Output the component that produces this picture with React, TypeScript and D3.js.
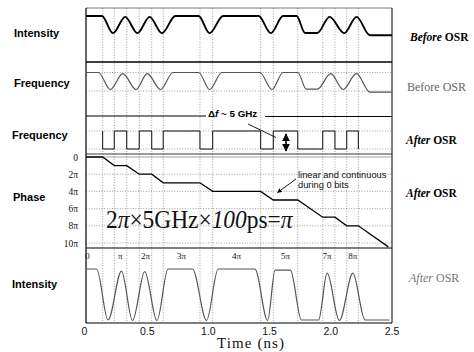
import React from "react";
import * as d3 from "d3";

// ---------- data ----------
const timeTicks = [0, 0.5, 1.0, 1.5, 2.0, 2.5];
const timeTickLabels = ["0", "0.5", "1.0", "1.5", "2.0", "2.5"];

// edges of the 0-bit windows (dotted vertical guides)
const edgeTimes = [0.136, 0.231, 0.333, 0.435, 0.537, 0.631, 0.931, 1.035, 1.427, 1.53, 1.73, 1.934, 2.034, 2.13, 2.225];

// Intensity before OSR (normalised)
const intBeforeT = [0, 0.13, 0.22, 0.32, 0.42, 0.52, 0.62, 0.73, 0.92, 1.01, 1.12, 1.41, 1.51, 1.61, 1.72, 1.79, 1.89, 1.99, 2.11, 2.21, 2.32, 2.5];
const intBeforeV = [1, 1, 0.02, 0.95, 0.02, 0.95, 0.02, 1, 1, 0.02, 1, 1, 0.02, 1, 1, 0.03, 0.03, 0.95, 0.02, 0.95, -0.1, -0.1];

// Frequency before OSR (normalised)
const freqBeforeT = [0, 0.1, 0.2, 0.3, 0.41, 0.5, 0.61, 0.71, 0.92, 1.01, 1.11, 1.42, 1.52, 1.61, 1.73, 1.8, 1.89, 2.0, 2.1, 2.21, 2.32, 2.5];
const freqBeforeV = [1, 1, 0, 0.93, 0, 0.93, 0, 1, 1, 0, 1, 1, 0, 1, 1, 0.02, 0.02, 0.93, 0, 0.93, -0.16, -0.16];

// Frequency after OSR: level right after each edge (1 = high, 0 = low)
const freqAfterLevels = [0, 1, 0, 1, 0, 1, 0, 1, 0, 1, 0, 1, 0, 1, 0];

// Phase after OSR (units of pi, negative = downward)
const phaseT = [0, 0.136, 0.231, 0.333, 0.435, 0.537, 0.631, 0.931, 1.035, 1.427, 1.53, 1.73, 1.934, 2.034, 2.13, 2.225, 2.47];
const phaseV = [0, 0, -1, -1, -2, -2, -3, -3, -4, -4, -5, -5, -7, -7, -8, -8, -10.45];
const phaseTicks = [0, 2, 4, 6, 8, 10];
const phaseTickLabels = ["0", "2π", "4π", "6π", "8π", "10π"];

// Intensity after OSR (normalised)
const intAfterT = [0, 0.087, 0.18, 0.29, 0.38, 0.48, 0.58, 0.67, 0.87, 0.985, 1.08, 1.38, 1.484, 1.545, 1.67, 1.76, 1.9, 1.97, 2.07, 2.18, 2.28, 2.48];
const intAfterV = [1, 1, 0.01, 0.96, 0, 0.95, 0, 1, 1, 0, 1, 1, 0, 0.98, 0.98, 0.01, 0.01, 0.92, 0, 0.92, 0.01, 0.01];

// phase labels placed over the 1-bit windows
const bitPhaseLabels = ["0", "π", "2π", "3π", "4π", "5π", "7π", "8π"];
const bitPhaseT = [0.012, 0.28, 0.486, 0.78, 1.23, 1.63, 1.97, 2.18];

// ---------- layout ----------
const W = 474, H = 352;
const X0 = 86, X1 = 392;
const sans = "'Liberation Sans', Arial, sans-serif";
const serif = "'Liberation Serif', 'Times New Roman', serif";

export default function App() {
  const x = d3.scaleLinear().domain([0, 2.5]).range([X0, X1]);
  const yI1 = d3.scaleLinear().domain([0, 1]).range([33.5, 16]);
  const yF1 = d3.scaleLinear().domain([0, 1]).range([89.5, 72.5]);
  const yF2 = d3.scaleLinear().domain([0, 1]).range([149, 131]);
  const yP = d3.scaleLinear().domain([0, -10]).range([157, 243]);
  const yI2 = d3.scaleLinear().domain([0, 1]).range([320.5, 269]);

  const mk = (T: number[], V: number[], ys: any, curve: any) =>
    d3.line<number>().x((_, i) => x(T[i])).y((v) => ys(v)).curve(curve)(V) || "";

  const pIntBefore = mk(intBeforeT, intBeforeV, yI1, d3.curveMonotoneX);
  const pFreqBefore = mk(freqBeforeT, freqBeforeV, yF1, d3.curveMonotoneX);
  const sqT = [edgeTimes[0], ...edgeTimes];
  const sqV = [1, ...freqAfterLevels];
  const pFreqAfter = mk(sqT, sqV, yF2, d3.curveStepAfter);
  const pPhase = mk(phaseT, phaseV, yP, d3.curveLinear);
  const pIntAfter = mk(intAfterT, intAfterV, yI2, d3.curveMonotoneX);

  const dotted = { stroke: "#777", strokeWidth: 0.7, strokeDasharray: "1,1.6" };

  return (
    <svg width={W} height={H} viewBox={`0 0 ${W} ${H}`} style={{ position: "absolute", left: 0, top: 0, background: "#fff" }}>
      <defs>
        <marker id="ah" viewBox="0 0 10 10" refX="9" refY="5" markerWidth="5" markerHeight="5" orient="auto-start-reverse">
          <path d="M0,0 L10,5 L0,10 z" fill="#000" />
        </marker>
      </defs>
      <rect x={0} y={0} width={W} height={H} fill="#fff" />

      {/* vertical dotted guides */}
      {edgeTimes.map((t, i) => (
        <line key={"vg" + i} x1={x(t)} x2={x(t)} y1={8} y2={323} {...dotted} />
      ))}

      {/* horizontal dotted guides */}
      {[72.5, 91].map((y, i) => (
        <line key={"hf1" + i} x1={X0} x2={X1} y1={y} y2={y} {...dotted} />
      ))}
      {[yF2(1), yF2(0)].map((y, i) => (
        <line key={"hf2" + i} x1={X0} x2={X1} y1={y} y2={y} {...dotted} />
      ))}
      {phaseTicks.slice(1).map((p, i) => (
        <line key={"hp" + i} x1={X0} x2={X1} y1={yP(-p)} y2={yP(-p)} {...dotted} />
      ))}

      {/* frame and panel separators */}
      <line x1={X0} x2={X1} y1={8} y2={8} stroke="#555" strokeWidth={0.8} />
      <line x1={X0} x2={X0} y1={8} y2={323} stroke="#000" strokeWidth={1.2} />
      <line x1={X1} x2={X1} y1={8} y2={323} stroke="#000" strokeWidth={1} />
      <line x1={X0} x2={X1} y1={62} y2={62} stroke="#000" strokeWidth={1.4} />
      <line x1={X0} x2={206} y1={116} y2={116} stroke="#000" strokeWidth={1.1} />
      <line x1={265} x2={X1} y1={116.5} y2={116.5} stroke="#000" strokeWidth={1.1} />
      <line x1={X0} x2={X1} y1={154} y2={154} stroke="#222" strokeWidth={0.9} />
      <line x1={X0} x2={X1} y1={157} y2={157} stroke="#666" strokeWidth={0.6} />
      <line x1={X0} x2={X1} y1={248} y2={248} stroke="#000" strokeWidth={1.1} />
      <line x1={X0} x2={X1} y1={323} y2={323} stroke="#000" strokeWidth={1.2} />

      {/* curves */}
      <path d={pIntBefore} fill="none" stroke="#000" strokeWidth={1.9} />
      <path d={pFreqBefore} fill="none" stroke="#555" strokeWidth={1.2} />
      <path d={pFreqAfter} fill="none" stroke="#111" strokeWidth={1} />
      <path d={pPhase} fill="none" stroke="#000" strokeWidth={1.3} />
      <path d={pIntAfter} fill="none" stroke="#555" strokeWidth={1.2} />

      {/* Δf annotation */}
      <text x={208} y={116.5} fontFamily={sans} fontSize={9.8} fontWeight="bold" fill="#000">
        Δ<tspan fontStyle="italic">f</tspan> ~ 5 GHz
      </text>
      <line x1={248} y1={124} x2={276} y2={137.5} stroke="#000" strokeWidth={0.9} />
      <line x1={286} x2={286} y1={134} y2={151} stroke="#000" strokeWidth={1.6} markerStart="url(#ah)" markerEnd="url(#ah)" />

      {/* linear annotation */}
      <text x={298} y={178} fontFamily={sans} fontSize={9.3} fill="#111">linear and continuous</text>
      <text x={298} y={187.5} fontFamily={sans} fontSize={9.3} fill="#111">during 0 bits</text>
      <line x1={296} y1={179} x2={277.5} y2={192.5} stroke="#000" strokeWidth={0.9} markerEnd="url(#ah)" />

      {/* formula */}
      <g transform="translate(106,228) scale(0.9,1)">
        <text x={0} y={0} fontFamily={serif} fontSize={26} fill="#111">
          2<tspan fontStyle="italic">π</tspan>×5GHz×<tspan fontStyle="italic">100</tspan>ps=<tspan fontStyle="italic">π</tspan>
        </text>
      </g>

      {/* phase axis labels */}
      {phaseTicks.map((p, i) => (
        <text key={"pt" + i} x={78} y={yP(-p) + 3.5} textAnchor="end" fontFamily={serif} fontSize={9.5} fill="#111">
          {phaseTickLabels[i]}
        </text>
      ))}

      {/* bit phase labels in bottom panel */}
      {bitPhaseLabels.map((s, i) => (
        <text key={"bp" + i} x={x(bitPhaseT[i])} y={258.5} textAnchor="middle" fontFamily={serif} fontSize={9} fill="#111">
          {s}
        </text>
      ))}

      {/* time axis */}
      {timeTicks.map((t, i) => (
        <text key={"tt" + i} x={x(t) - (i === 0 ? 1.5 : 0)} y={334.5} textAnchor="middle" fontFamily={sans} fontSize={10.5} fill="#111">
          {timeTickLabels[i]}
        </text>
      ))}
      <text x={217} y={348} fontFamily={serif} fontSize={15} fill="#111" textLength={67} lengthAdjust="spacing">Time (ns)</text>

      {/* left labels */}
      {[
        ["Intensity", 14, 32.5],
        ["Frequency", 14, 83],
        ["Frequency", 12, 134.5],
        ["Phase", 13, 197],
        ["Intensity", 12, 283.5],
      ].map(([s, lx, ly], i) => (
        <text key={"ll" + i} x={lx as number} y={(ly as number) + 4} fontFamily={sans} fontSize={11} fontWeight="bold" fill="#000">
          {s}
        </text>
      ))}

      {/* right labels */}
      <text x={410} y={41} fontFamily={serif} fontSize={11.5} fontWeight="bold" fill="#000">
        <tspan fontStyle="italic">Before</tspan> OSR
      </text>
      <text x={407} y={91} fontFamily={serif} fontSize={12} fill="#666">
        Before  OSR
      </text>
      <text x={406} y={144} fontFamily={serif} fontSize={11.5} fontWeight="bold" fill="#000">
        <tspan fontStyle="italic">After</tspan>  OSR
      </text>
      <text x={406} y={197} fontFamily={serif} fontSize={11.5} fontWeight="bold" fill="#000">
        <tspan fontStyle="italic">After</tspan>  OSR
      </text>
      <text x={409} y={282} fontFamily={serif} fontSize={12} fill="#777">
        <tspan fontStyle="italic">After</tspan> OSR
      </text>
    </svg>
  );
}
